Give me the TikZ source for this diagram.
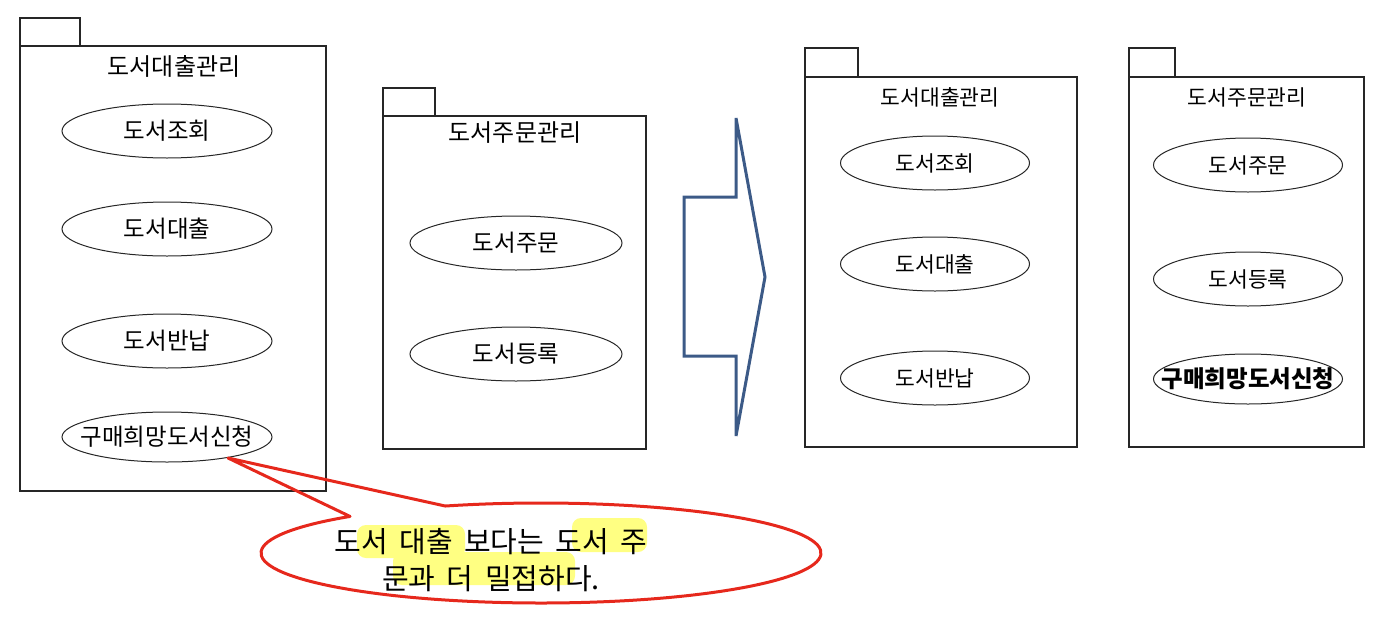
\documentclass[tikz,border=0pt]{standalone}
\usepackage{fontspec}
\setmainfont{Noto Sans CJK KR}
\usetikzlibrary{shapes.geometric,calc}
\definecolor{arrowblue}{RGB}{60,90,135}
\definecolor{callred}{RGB}{230,40,28}
\definecolor{hl}{RGB}{255,255,130}
\tikzset{
  pkg/.style={draw=black!85, line width=1.1pt},
  uc/.style={draw=black!85, line width=1pt, ellipse, inner sep=0pt, font=\fontsize{23.5}{26}\selectfont},
  ucs/.style={uc, font=\fontsize{21.5}{24}\selectfont},
  ttl/.style={inner sep=0pt, font=\fontsize{24}{26}\selectfont},
  ttls/.style={inner sep=0pt, font=\fontsize{21.5}{24}\selectfont},
}
\begin{document}
\begin{tikzpicture}[x=1pt,y=-1pt]
\useasboundingbox (0,0) rectangle (1380,632);
% package 1
\draw[pkg] (20,18) rectangle (80,46);
\draw[pkg] (20,46) rectangle (326,491);
\node[ttl] (t1) at (174,66) {도서대출관리};
\node[uc, minimum width=210pt, minimum height=54pt] (a1) at (167,131) {도서조회};
\node[uc, minimum width=210pt, minimum height=54pt] (a2) at (167,229) {도서대출};
\node[uc, minimum width=210pt, minimum height=54pt] (a3) at (167,341) {도서반납};
\node[uc, minimum width=210pt, minimum height=50pt, inner xsep=-14pt] (a4) at (167,437) {구매희망도서신청};
% package 2
\draw[pkg] (383,88) rectangle (435,116);
\draw[pkg] (383,116) rectangle (646,449);
\node[ttl] (t2) at (515,133) {도서주문관리};
\node[uc, minimum width=212pt, minimum height=54pt] (b1) at (516,243) {도서주문};
\node[uc, minimum width=212pt, minimum height=54pt] (b2) at (516,354) {도서등록};
% big arrow
\draw[arrowblue, line width=3pt, line join=miter]
  (736,118) -- (736,197) -- (684,197) -- (684,356) -- (736,356) -- (736,436) -- (765,277) -- cycle;
% package 3
\draw[pkg] (805,48) rectangle (858,77);
\draw[pkg] (805,77) rectangle (1077,447);
\node[ttls] (t3) at (940,97) {도서대출관리};
\node[ucs, minimum width=189pt, minimum height=54pt] (c1) at (935,163) {도서조회};
\node[ucs, minimum width=189pt, minimum height=54pt] (c2) at (935,264) {도서대출};
\node[ucs, minimum width=189pt, minimum height=54pt] (c3) at (935,378) {도서반납};
% package 4
\draw[pkg] (1129,48) rectangle (1175,77);
\draw[pkg] (1129,77) rectangle (1364,447);
\node[ttls] (t4) at (1247,97) {도서주문관리};
\node[ucs, minimum width=189pt, minimum height=54pt] (d1) at (1248,165) {도서주문};
\node[ucs, minimum width=189pt, minimum height=54pt] (d2) at (1248,279) {도서등록};
\node[ucs, minimum width=189pt, minimum height=50pt, inner xsep=-21pt, font=\bfseries\fontsize{23.5}{26}\selectfont] (d3) at (1248,379) {구매희망도서신청};
% callout
\coordinate (tip) at (228,458);
\coordinate (cc) at (541,553);
\fill[hl, rounded corners=9pt] (357,525) rectangle (465,558);
\fill[hl, rounded corners=9pt] (572,518) rectangle (647,552);
\fill[hl, rounded corners=9pt] (393,552) rectangle (575,585);
\draw[callred, line width=3pt, line join=round]
  (tip) -- ($(cc)+(227:280 and 50)$) arc[start angle=227, end angle=-110, x radius=280, y radius=50] -- cycle;
\node[align=center, inner sep=0pt, font=\fontsize{29}{37}\selectfont, text depth=0pt] (note) at (491,559)
  {도서\hspace{5pt} 대출\hspace{5pt} 보다는\hspace{5pt} 도서\hspace{5pt} 주\\문과\hspace{5pt} 더\hspace{5pt} 밀접하다.};
\end{tikzpicture}
\end{document}
